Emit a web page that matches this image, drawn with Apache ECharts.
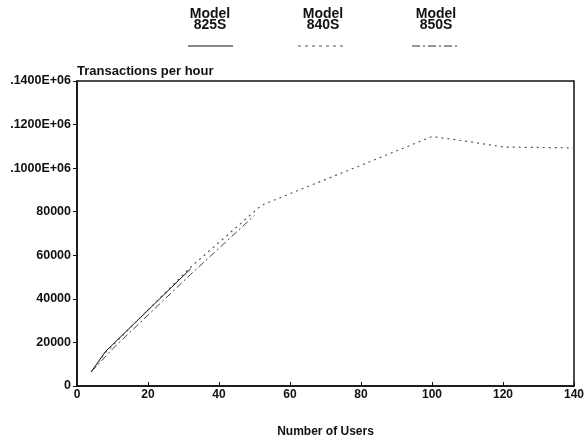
<!DOCTYPE html>
<html>
<head>
<meta charset="utf-8">
<script src="https://cdn.jsdelivr.net/npm/echarts@6/dist/echarts.min.js"></script>
<style>html,body{margin:0;padding:0;background:#fff;overflow:hidden}#c{width:585px;height:439px}</style>
</head>
<body>
<div id="c"></div>
<script>
// ---- data ----
const seriesNames = ['Model\n825S', 'Model\n840S', 'Model\n850S'];
const s825 = [[4, 6500], [8, 15800], [32, 53800]];
const s840 = [[4, 6500], [8, 15300], [32, 54500], [52, 83000], [60, 88300], [80, 101300], [100, 114500], [110, 112300], [120, 109700], [140, 109300]];
const s850 = [[4, 6500], [10, 17000], [32, 51200], [50, 78300]];
const xTicks = [0, 20, 40, 60, 80, 100, 120, 140];
const yTickLabels = ['0', '20000', '40000', '60000', '80000', '.1000E+06', '.1200E+06', '.1400E+06'];

const font = '"Liberation Sans", Arial, Helvetica, sans-serif';
const chart = echarts.init(document.getElementById('c'), null, {renderer: 'canvas'});

const legendItems = [
  {cx: 210, x1: 188, x2: 233, dash: null, color: '#111'},
  {cx: 323, x1: 298, x2: 343, dash: [3, 4], color: '#555'},
  {cx: 436, x1: 412, x2: 460, dash: [8, 3, 2, 3], color: '#333'}
];
const graphic = [];
legendItems.forEach((it, i) => {
  graphic.push({
    type: 'text', x: it.cx, y: 9,
    style: {text: seriesNames[i], font: 'bold 14px ' + font, fill: '#111', lineHeight: 11, align: 'center', verticalAlign: 'top'}
  });
  graphic.push({
    type: 'line', shape: {x1: it.x1, y1: 46, x2: it.x2, y2: 46},
    style: {stroke: it.color, lineWidth: 1.2, lineDash: it.dash || null}
  });
});

chart.setOption({
  animation: false,
  backgroundColor: '#fff',
  grid: {left: 77, right: 11, top: 81, bottom: 53, show: true, borderColor: '#111', borderWidth: 1.5,
    containLabel: false, outerBoundsMode: 'none'},
  graphic: graphic,
  xAxis: {
    type: 'value', min: 0, max: 140, interval: 20,
    name: 'Number of Users', nameLocation: 'middle', nameGap: 40,
    nameTextStyle: {fontFamily: font, fontWeight: 'bold', fontSize: 12, color: '#111'},
    axisLine: {show: true, lineStyle: {color: '#111', width: 1.5}},
    axisTick: {show: true, inside: true, length: 4, lineStyle: {color: '#111', width: 1}},
    axisLabel: {fontFamily: font, fontWeight: 'bold', fontSize: 12, color: '#111', margin: 3,
      formatter: v => xTicks.indexOf(v) >= 0 ? String(v) : ''},
    splitLine: {show: false}
  },
  yAxis: {
    type: 'value', min: 0, max: 140000, interval: 20000,
    name: 'Transactions per hour', nameLocation: 'end', nameGap: 3,
    nameTextStyle: {fontFamily: font, fontWeight: 'bold', fontSize: 13, color: '#111', align: 'left', verticalAlign: 'bottom'},
    axisLine: {show: true, lineStyle: {color: '#111', width: 1.5}},
    axisTick: {show: true, inside: false, length: 4, lineStyle: {color: '#111', width: 1}},
    axisLabel: {fontFamily: font, fontWeight: 'bold', fontSize: 12.5, color: '#111', margin: 6,
      formatter: v => yTickLabels[Math.round(v / 20000)]},
    splitLine: {show: false}
  },
  series: [
    {name: seriesNames[0], type: 'line', data: s825, showSymbol: false, symbol: 'none',
      lineStyle: {color: '#111', width: 1}},
    {name: seriesNames[1], type: 'line', data: s840, showSymbol: false, symbol: 'none',
      lineStyle: {color: '#555', width: 1.2, type: [2, 4]}},
    {name: seriesNames[2], type: 'line', data: s850, showSymbol: false, symbol: 'none',
      lineStyle: {color: '#444', width: 1, type: [7, 3, 2, 3]}}
  ]
});
</script>
</body>
</html>
